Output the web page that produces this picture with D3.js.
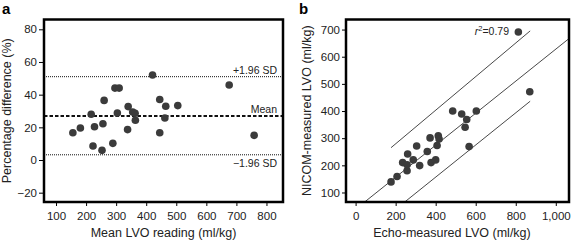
<!DOCTYPE html>
<html>
<head>
<meta charset="utf-8">
<script src="https://cdn.jsdelivr.net/npm/d3@7"></script>
<style>
  body { margin: 0; background: #fff; }
  svg { font-family: "Liberation Sans", Arial, sans-serif; }
  .tick text { font-size: 11.5px; fill: #222; }
  .tick line { stroke: #000; }
</style>
</head>
<body>
<svg id="chart" width="571" height="241"></svg>
<script>
// panel a: Bland-Altman (mean LVO vs percentage difference)
const baMean = [156, 181, 217, 228, 223, 253, 256, 260, 289, 296, 310, 304, 338, 340, 355, 363, 364, 421, 445, 445, 465, 462, 505, 676, 759];
const baDiff = [16.7, 19.6, 28, 20.4, 8.6, 5.9, 22.2, 36.5, 10.2, 44, 44, 28.8, 18.6, 32.7, 29.4, 28.6, 24.3, 52, 37, 16.7, 32.9, 25.7, 33.3, 45.9, 15.1];
const baLines = [51, 27, 3.2];            // +1.96 SD, mean, -1.96 SD
const baLabels = ["+1.96 SD", "Mean", "\u22121.96 SD"];
const baXTicks = [100, 200, 300, 400, 500, 600, 700, 800];
const baYTicks = [-20, 0, 20, 40, 60, 80];

// panel b: echo vs NICOM
const echo = [177, 207, 235, 260, 257, 257, 288, 305, 320, 358, 377, 372, 400, 407, 413, 417, 485, 530, 547, 555, 603, 567, 813, 870];
const nicom = [139, 159, 210, 242, 180, 202, 220, 271, 199, 251, 210, 301, 220, 273, 309, 297, 400, 389, 340, 369, 400, 269, 691, 471];
const fitLine = [[40, 62], [1080, 675]];
const upperLine = [[177, 265], [872, 695]];
const lowerLine = [[247, 66], [872, 436]];
const bXTicks = [0, 200, 400, 600, 800, 1000];
const bYTicks = [100, 200, 300, 400, 500, 600, 700];

const svg = d3.select("#chart");
const dotColor = "#3b3b3b";

// ---------- panel a ----------
const a = { left: 44, right: 283, top: 19.5, bottom: 202 };
const xa = d3.scaleLinear().domain([60, 855]).range([a.left, a.right]);
const ya = d3.scaleLinear().domain([-25.7, 86]).range([a.bottom, a.top]);

svg.append("g")
  .attr("transform", `translate(0,${a.bottom})`)
  .call(d3.axisBottom(xa).tickValues(baXTicks).tickSize(4).tickPadding(6))
  .call(g => g.select(".domain").remove());

svg.append("g")
  .attr("transform", `translate(${a.left},0)`)
  .call(d3.axisLeft(ya).tickValues(baYTicks).tickSize(5).tickPadding(2)
    .tickFormat(d => d < 0 ? "\u2212" + Math.abs(d) : d))
  .call(g => g.select(".domain").remove());

svg.selectAll(".baline")
  .data(baLines)
  .enter().append("line")
  .attr("x1", a.left).attr("x2", a.right)
  .attr("y1", d => ya(d)).attr("y2", d => ya(d))
  .attr("stroke", "#111")
  .attr("stroke-width", (d, i) => i == 1 ? 2 : 1)
  .attr("stroke-dasharray", (d, i) => i == 1 ? "3.5,2" : "1,1");

svg.selectAll(".balabel")
  .data(baLines)
  .enter().append("text")
  .attr("x", a.right - 6)
  .attr("y", (d, i) => i == 2 ? ya(d) + 12 : ya(d) - 3)
  .attr("text-anchor", "end")
  .attr("font-size", 10.5)
  .attr("fill", "#222")
  .text((d, i) => baLabels[i]);

svg.append("g").selectAll("circle")
  .data(baMean)
  .enter().append("circle")
  .attr("cx", d => xa(d))
  .attr("cy", (d, i) => ya(baDiff[i]))
  .attr("r", 3.8)
  .attr("fill", dotColor);

svg.append("rect")
  .attr("x", a.left).attr("y", a.top)
  .attr("width", a.right - a.left).attr("height", a.bottom - a.top)
  .attr("fill", "none").attr("stroke", "#000").attr("stroke-width", 2.5);

svg.append("text")
  .attr("transform", `translate(6.5,${(a.top + a.bottom) / 2}) rotate(-90)`)
  .attr("text-anchor", "middle").attr("dy", "0.35em")
  .attr("font-size", 12.5).attr("fill", "#222")
  .text("Percentage difference (%)");

svg.append("text")
  .attr("x", (a.left + a.right) / 2).attr("y", 237)
  .attr("text-anchor", "middle")
  .attr("font-size", 12.5).attr("fill", "#222")
  .text("Mean LVO reading (ml/kg)");

svg.append("text")
  .attr("x", 2).attr("y", 14)
  .attr("font-size", 15).attr("font-weight", "bold")
  .text("a");

// ---------- panel b ----------
const b = { left: 346, right: 569, top: 19.5, bottom: 202 };
const xb = d3.scaleLinear().domain([-48, 1066]).range([b.left, b.right]);
const yb = d3.scaleLinear().domain([65, 737]).range([b.bottom, b.top]);

svg.append("g")
  .attr("transform", `translate(0,${b.bottom})`)
  .call(d3.axisBottom(xb).tickValues(bXTicks).tickSize(4).tickPadding(6)
    .tickFormat(d3.format(",")))
  .call(g => g.select(".domain").remove());

svg.append("g")
  .attr("transform", `translate(${b.left},0)`)
  .call(d3.axisLeft(yb).tickValues(bYTicks).tickSize(4).tickPadding(2))
  .call(g => g.select(".domain").remove());

svg.append("clipPath").attr("id", "clipb")
  .append("rect")
  .attr("x", b.left).attr("y", b.top)
  .attr("width", b.right - b.left).attr("height", b.bottom - b.top);

const line = d3.line().x(d => xb(d[0])).y(d => yb(d[1]));
svg.append("g").attr("clip-path", "url(#clipb)")
  .selectAll("path")
  .data([fitLine, upperLine, lowerLine])
  .enter().append("path")
  .attr("d", line)
  .attr("stroke", "#333").attr("stroke-width", 0.9).attr("fill", "none");

svg.append("g").selectAll("circle")
  .data(echo)
  .enter().append("circle")
  .attr("cx", d => xb(d))
  .attr("cy", (d, i) => yb(nicom[i]))
  .attr("r", 3.8)
  .attr("fill", dotColor);

const r2 = svg.append("text")
  .attr("x", 509).attr("y", 35)
  .attr("text-anchor", "end")
  .attr("font-size", 10.5).attr("fill", "#222");
r2.append("tspan").attr("font-style", "italic").text("r");
r2.append("tspan").attr("font-size", 7.5).attr("dy", -4).text("2");
r2.append("tspan").attr("dy", 4).text("=0.79");

svg.append("rect")
  .attr("x", b.left).attr("y", b.top)
  .attr("width", b.right - b.left).attr("height", b.bottom - b.top)
  .attr("fill", "none").attr("stroke", "#000").attr("stroke-width", 2.5);

svg.append("text")
  .attr("transform", `translate(307,${(b.top + b.bottom) / 2}) rotate(-90)`)
  .attr("text-anchor", "middle").attr("dy", "0.35em")
  .attr("font-size", 12.5).attr("fill", "#222")
  .text("NICOM-measured LVO (ml/kg)");

svg.append("text")
  .attr("x", 452).attr("y", 237)
  .attr("text-anchor", "middle")
  .attr("font-size", 12.5).attr("fill", "#222")
  .text("Echo-measured LVO (ml/kg)");

svg.append("text")
  .attr("x", 299).attr("y", 14)
  .attr("font-size", 15).attr("font-weight", "bold")
  .text("b");
</script>
</body>
</html>
